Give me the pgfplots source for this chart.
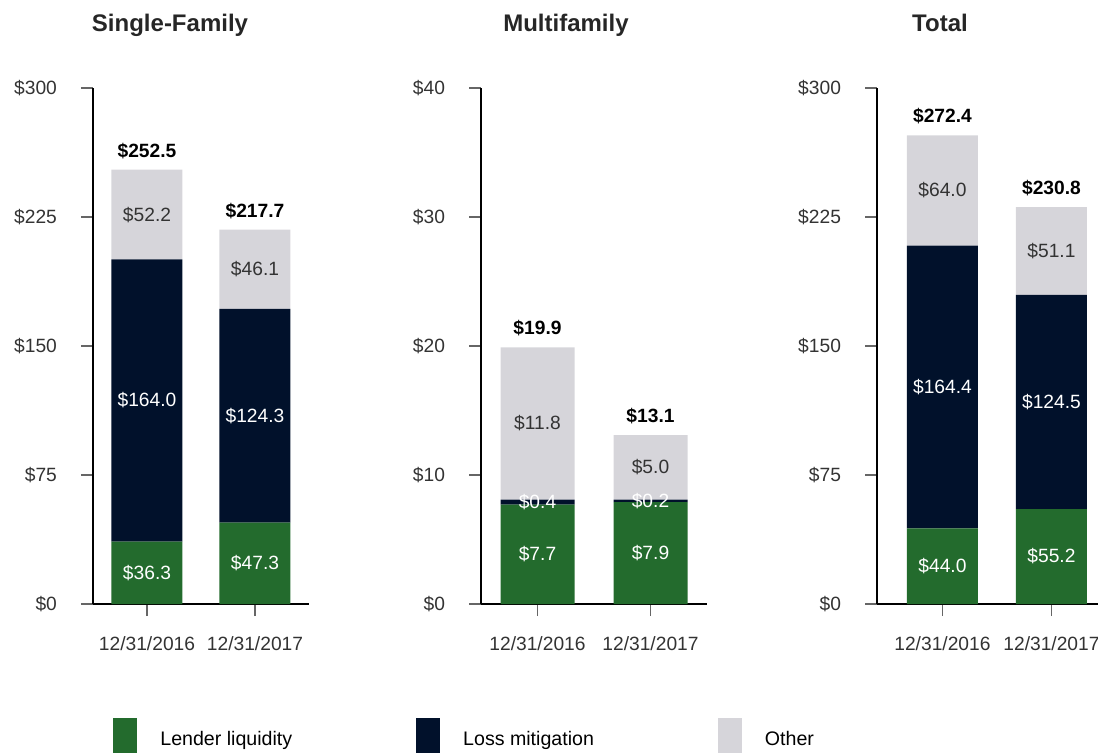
\documentclass[border=0pt]{standalone}
\usepackage{fontspec}
\setmainfont{Liberation Sans}
\usepackage{pgfplots}
\pgfplotsset{compat=1.18}

\definecolor{lendgreen}{HTML}{236B2D}
\definecolor{lossnavy}{HTML}{01112B}
\definecolor{othergrey}{HTML}{D6D5DA}
\definecolor{ticktext}{HTML}{333333}

\newcommand\lblfont{\fontsize{9.6}{11}\selectfont}

\pgfplotsset{
  panel/.style={
    scale only axis, height=258pt, ymin=0,
    xmin=-0.5, xmax=1.5,
    axis x line*=bottom, axis y line*=left,
    axis line style={line width=1pt, black},
    tick align=outside, major tick length=6pt,
    tick style={line width=0.8pt, black!60},
    xtick={0,1}, xticklabels={12/31/2016,12/31/2017},
    tick label style={font=\lblfont, text=ticktext},
    xticklabel style={yshift=-7pt},
    yticklabel style={xshift=-8.5pt},
    clip=false,
  },
  bars/.style={panel, ybar stacked, bar width=#1},
  labels/.style={panel, hide axis},
  seg/.style={draw=none, nodes near coords, point meta=explicit symbolic,
    nodes near coords style={anchor=center, font=\lblfont, text=#1}},
  tot/.style={draw=none, nodes near coords, point meta=explicit symbolic,
    nodes near coords style={anchor=south, yshift=2pt, font=\lblfont\bfseries, text=black}},
}

\begin{document}
\begin{tikzpicture}
\useasboundingbox (0,0) rectangle (549pt,-376.5pt);

% ---------- Single-Family ----------
\begin{axis}[bars=35.5pt, at={(46.5pt,-302pt)}, anchor=south west, width=108pt,
  ymax=300, ytick={0,75,150,225,300}, yticklabels={\$0,\$75,\$150,\$225,\$300},
  legend columns=3,
  legend image code/.code={\fill[#1] (0pt,-11pt) rectangle (12pt,11pt);},
  legend style={at={(0.0926,-0.2636)}, anchor=west, draw=none, fill=none,
    inner sep=0pt, font=\fontsize{9.8}{12}\selectfont,
    /tikz/every odd column/.append style={column sep=9.5pt},
    /tikz/every even column/.append style={column sep=60pt}}]
\addplot[fill=lendgreen, draw=none] coordinates {(0,36.3) (1,47.3)};
\addlegendentry{Lender liquidity}
\addplot[fill=lossnavy, draw=none] coordinates {(0,164.0) (1,124.3)};
\addlegendentry{Loss mitigation}
\addplot[fill=othergrey, draw=none] coordinates {(0,52.2) (1,46.1)};
\addlegendentry{Other}
\end{axis}
\begin{axis}[labels, at={(46.5pt,-302pt)}, anchor=south west, width=108pt, ymax=300]
\addplot[seg=white] coordinates {(0,18.15)[\$36.3] (1,23.65)[\$47.3]};
\addplot[seg=white] coordinates {(0,118.3)[\$164.0] (1,109.45)[\$124.3]};
\addplot[seg=ticktext] coordinates {(0,226.4)[\$52.2] (1,194.65)[\$46.1]};
\addplot[tot] coordinates {(0,252.5)[\$252.5] (1,217.7)[\$217.7]};
\end{axis}

% ---------- Multifamily ----------
\begin{axis}[bars=37pt, at={(240.5pt,-302pt)}, anchor=south west, width=113pt,
  ymax=40, ytick={0,10,20,30,40}, yticklabels={\$0,\$10,\$20,\$30,\$40}]
\addplot[fill=lendgreen, draw=none] coordinates {(0,7.7) (1,7.9)};
\addplot[fill=lossnavy, draw=none] coordinates {(0,0.4) (1,0.2)};
\addplot[fill=othergrey, draw=none] coordinates {(0,11.8) (1,5.0)};
\end{axis}
\begin{axis}[labels, at={(240.5pt,-302pt)}, anchor=south west, width=113pt, ymax=40]
\addplot[seg=white] coordinates {(0,3.85)[\$7.7] (1,3.95)[\$7.9]};
\addplot[seg=white] coordinates {(0,7.9)[\$0.4] (1,8.0)[\$0.2]};
\addplot[seg=ticktext] coordinates {(0,14.0)[\$11.8] (1,10.6)[\$5.0]};
\addplot[tot] coordinates {(0,19.9)[\$19.9] (1,13.1)[\$13.1]};
\end{axis}

% ---------- Total ----------
\begin{axis}[bars=35.5pt, at={(438.5pt,-302pt)}, anchor=south west, width=114.5pt,
  xmin=-0.6, ymax=300, ytick={0,75,150,225,300}, yticklabels={\$0,\$75,\$150,\$225,\$300}]
\addplot[fill=lendgreen, draw=none] coordinates {(0,44.0) (1,55.2)};
\addplot[fill=lossnavy, draw=none] coordinates {(0,164.4) (1,124.5)};
\addplot[fill=othergrey, draw=none] coordinates {(0,64.0) (1,51.1)};
\end{axis}
\begin{axis}[labels, at={(438.5pt,-302pt)}, anchor=south west, width=114.5pt, xmin=-0.6, ymax=300]
\addplot[seg=white] coordinates {(0,22.0)[\$44.0] (1,27.6)[\$55.2]};
\addplot[seg=white] coordinates {(0,126.2)[\$164.4] (1,117.45)[\$124.5]};
\addplot[seg=ticktext] coordinates {(0,240.4)[\$64.0] (1,205.25)[\$51.1]};
\addplot[tot] coordinates {(0,272.4)[\$272.4] (1,230.8)[\$230.8]};
\end{axis}

% ---------- titles ----------
\begin{scope}[every node/.style={anchor=base, font=\fontsize{12}{14}\selectfont\bfseries, text=black!85}]
\node at (85pt,-16pt) {Single-Family};
\node at (283pt,-16pt) {Multifamily};
\node at (470pt,-16pt) {Total};
\end{scope}
\end{tikzpicture}
\end{document}
